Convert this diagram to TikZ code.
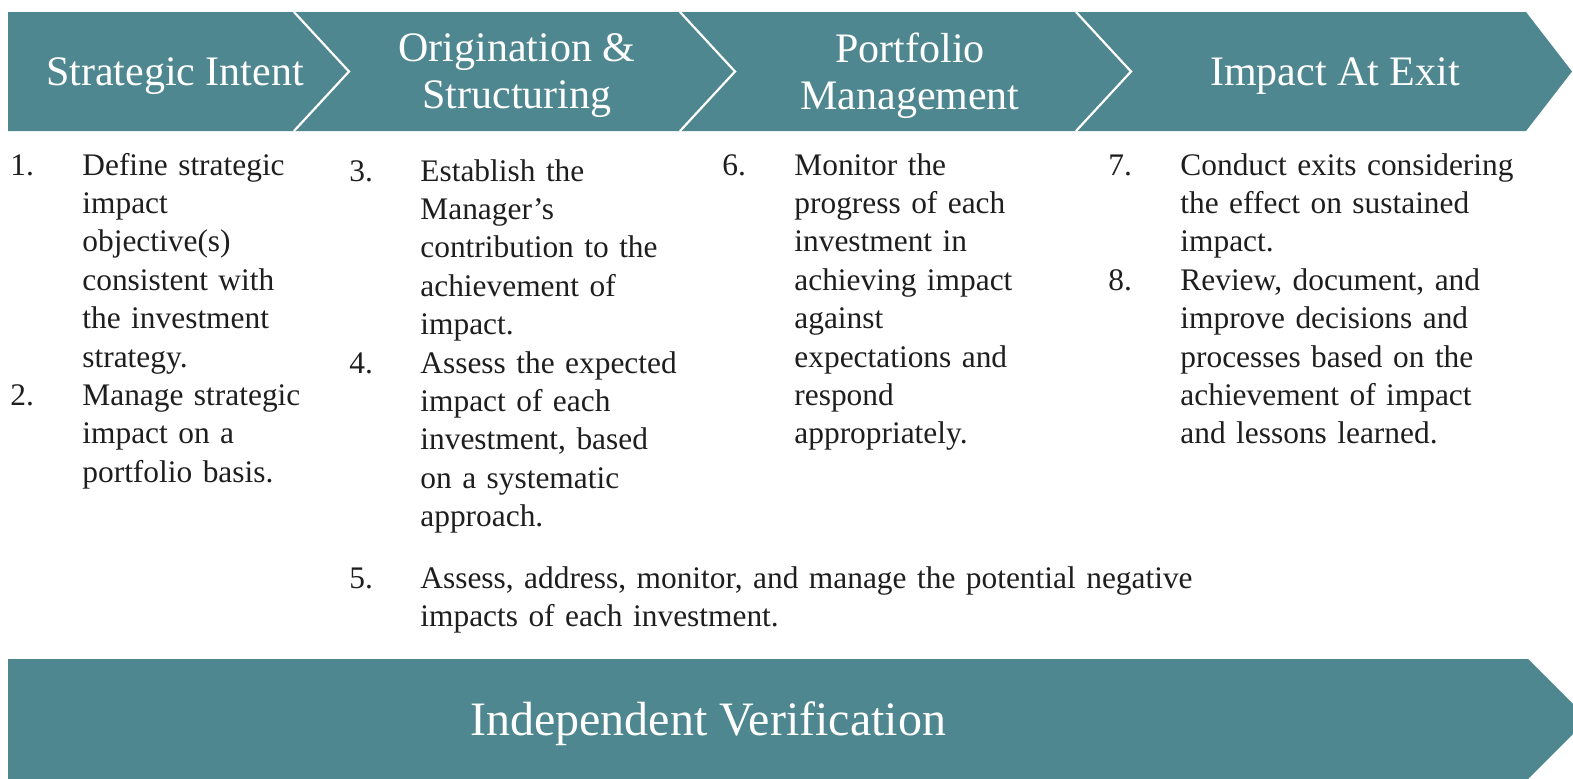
\documentclass[tikz,border=0pt]{standalone}
\usepackage{fontspec}
\setmainfont{Liberation Serif}
\definecolor{bandcol}{RGB}{78,135,143}
\definecolor{inkcol}{RGB}{30,30,30}

\tikzset{
  bandfill/.style={fill=bandcol},
  gapline/.style={draw=white, line width=1.1pt},
  head/.style={text=white, align=center, inner sep=0pt, font=\fontsize{21}{23.5}\selectfont},
  verif/.style={text=white, inner sep=0pt, font=\fontsize{24}{28}\selectfont},
  num/.style={text=inkcol, anchor=base west, inner sep=0pt, font=\fontsize{15.7}{19.2}\selectfont},
  item/.style={num, text width=190pt, align=left},
}

\begin{document}
\begin{tikzpicture}[x=0.5pt,y=-0.5pt]

\def\width{1573}
\def\height{778}
\def\lh{38.4}
\def\ya{12}
\def\yb{131}
\def\ym{71.5}

\path [use as bounding box] (0,0) rectangle (\width,\height);

% STAGES
\fill [bandfill] (8,\ya) -- (294,\ya) -- (349,\ym) -- (294,\yb) -- (8,\yb) -- cycle;
\fill [bandfill] (294,\ya) -- (680,\ya) -- (735,\ym) -- (680,\yb) -- (294,\yb) -- (349,\ym) -- cycle;
\fill [bandfill] (680,\ya) -- (1076,\ya) -- (1131,\ym) -- (1076,\yb) -- (680,\yb) -- (735,\ym) -- cycle;
\fill [bandfill] (1076,\ya) -- (1526,\ya) -- (1572,\ym) -- (1526,\yb) -- (1076,\yb) -- (1131,\ym) -- cycle;

% GAPS
\draw [gapline] (294,\ya) -- (349,\ym) -- (294,\yb);
\draw [gapline] (680,\ya) -- (735,\ym) -- (680,\yb);
\draw [gapline] (1076,\ya) -- (1131,\ym) -- (1076,\yb);

% TITLES
\node [head] (intent) at (175,76) {Strategic Intent};
\node [head] (origin) at (517,76) {Origination \&\\Structuring};
\node [head] (portf) at (910,76) {Portfolio\\Management};
\node [head] (exit) at (1335,76) {Impact At Exit};

% PRINCIPLES
\node [num] (n1) at (10,175) {1.};
\node [item] (p1) at (82,175) {Define strategic\\impact\\objective(s)\\consistent with\\the investment\\strategy.};
\node [num] (n2) at (10,175+6*\lh) {2.};
\node [item] (p2) at (82,175+6*\lh) {Manage strategic\\impact on a\\portfolio basis.};

\node [num] (n3) at (349,181) {3.};
\node [item] (p3) at (420,181) {Establish the\\Manager’s\\contribution to the\\achievement of\\impact.};
\node [num] (n4) at (349,181+5*\lh) {4.};
\node [item] (p4) at (420,181+5*\lh) {Assess the expected\\impact of each\\investment, based\\on a systematic\\approach.};

\node [num] (n5) at (349,588) {5.};
\node [item, text width=450pt] (p5) at (420,588) {Assess, address, monitor, and manage the potential negative\\impacts of each investment.};

\node [num] (n6) at (722,175) {6.};
\node [item] (p6) at (794,175) {Monitor the\\progress of each\\investment in\\achieving impact\\against\\expectations and\\respond\\appropriately.};

\node [num] (n7) at (1108,175) {7.};
\node [item] (p7) at (1180,175) {Conduct exits considering\\the effect on sustained\\impact.};
\node [num] (n8) at (1108,175+3*\lh) {8.};
\node [item] (p8) at (1180,175+3*\lh) {Review, document, and\\improve decisions and\\processes based on the\\achievement of impact\\and lessons learned.};

% VERIFICATION
\fill [bandfill] (8,659) -- (1528,659) -- (1588,719) -- (1528,779) -- (8,779) -- cycle;
\node [verif] (verify) at (708,724) {Independent Verification};

\end{tikzpicture}
\end{document}
